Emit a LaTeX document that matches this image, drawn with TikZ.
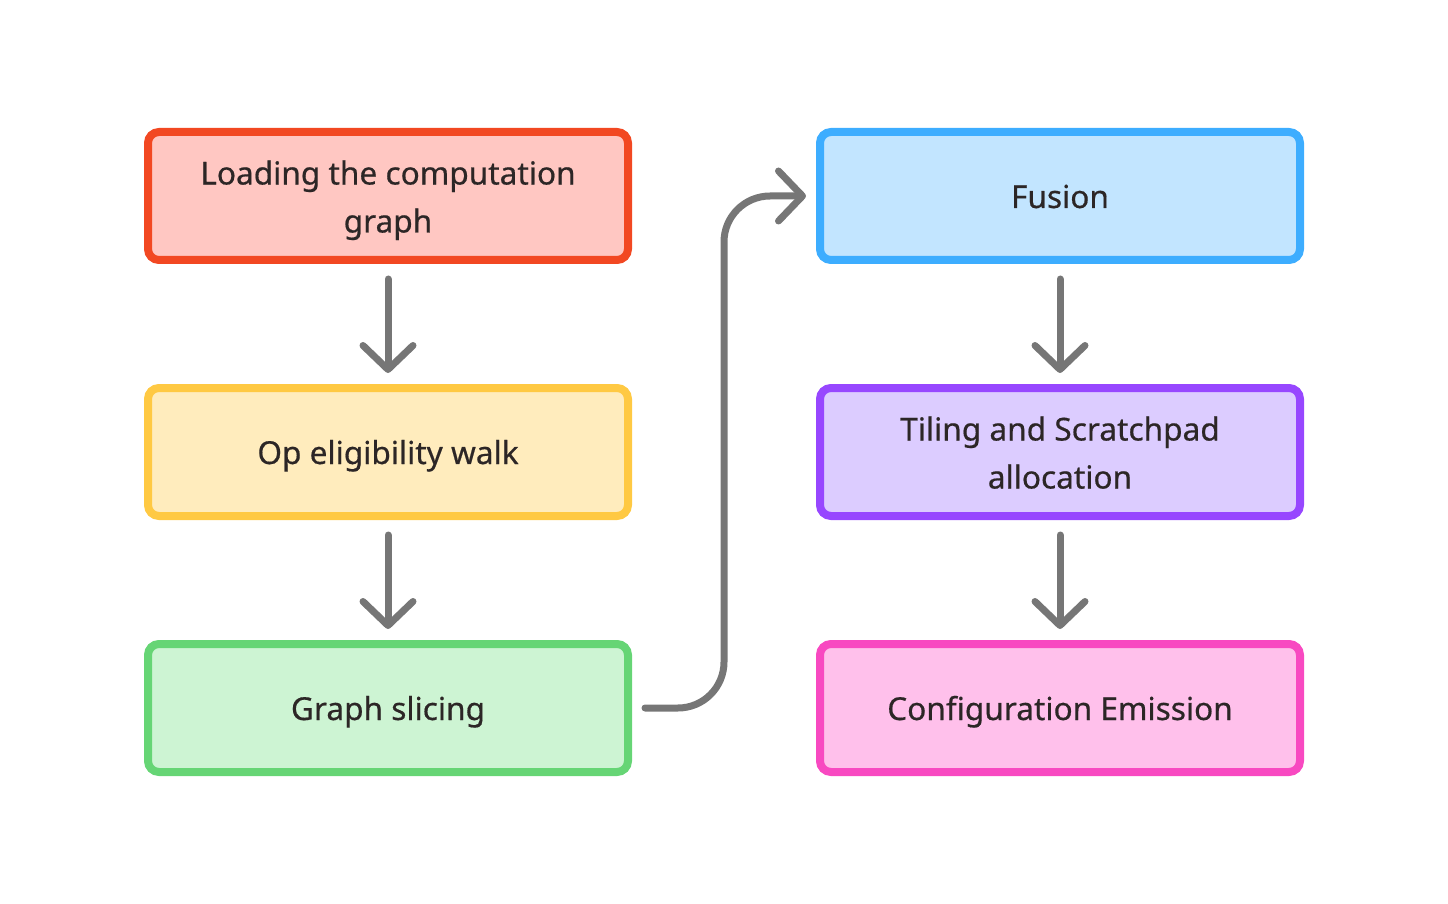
\documentclass[tikz,border=0pt]{standalone}
\usepackage{fontspec}
\setmainfont{Noto Sans}[FakeBold=0.5]
\usetikzlibrary{positioning,arrows.meta,calc}

\definecolor{txtdark}{HTML}{2C2626}
\definecolor{flowgray}{HTML}{767676}
\definecolor{redline}{HTML}{F24822}
\definecolor{redfill}{HTML}{FFC7C2}
\definecolor{yellowline}{HTML}{FFC943}
\definecolor{yellowfill}{HTML}{FFECBD}
\definecolor{greenline}{HTML}{66D575}
\definecolor{greenfill}{HTML}{CDF4D3}
\definecolor{blueline}{HTML}{3DADFF}
\definecolor{bluefill}{HTML}{C2E5FF}
\definecolor{purpleline}{HTML}{9747FF}
\definecolor{purplefill}{HTML}{DCCCFF}
\definecolor{pinkline}{HTML}{F849C1}
\definecolor{pinkfill}{HTML}{FFC0EB}

% taller first line for the two-line labels
\newcommand{\firststrut}{\rule{0pt}{16.5pt}}

\begin{document}
\begin{tikzpicture}[x=0.5pt,y=-0.5pt,
    stage/.style={draw, line width=4pt, rounded corners=5.5pt,
      minimum width=240pt, minimum height=64pt, inner sep=0pt,
      align=center, text=txtdark, font=\fontsize{15.8}{24}\selectfont,
      execute at begin node={\rule[-4pt]{0pt}{20pt}}},
    flow/.style={draw=flowgray, line width=3.5pt, line cap=round,
      -{Straight Barb[length=12pt, width=25pt, line cap=round, line join=round]}}]
    \useasboundingbox (0,0) rectangle (1448,904);

    % left column
    \node[stage, draw=redline, fill=redfill] (load) at (388,196) {\firststrut Loading the computation\\graph};
    \node[stage, draw=yellowline, fill=yellowfill, below=60pt of load] (elig) {Op eligibility walk};
    \node[stage, draw=greenline, fill=greenfill, below=60pt of elig] (slice) {Graph slicing};

    % right column
    \node[stage, draw=blueline, fill=bluefill] (fuse) at (1060,196) {Fusion};
    \node[stage, draw=purpleline, fill=purplefill, below=60pt of fuse] (tile) {\firststrut Tiling and Scratchpad\\allocation};
    \node[stage, draw=pinkline, fill=pinkfill, below=60pt of tile] (emit) {Configuration Emission};

    % arrows
    \draw[flow, shorten <=7.5pt, shorten >=5.5pt] (load) -- (elig);
    \draw[flow, shorten <=7.5pt, shorten >=5.5pt] (elig) -- (slice);
    \draw[flow, shorten <=7.5pt, shorten >=5.5pt] (fuse) -- (tile);
    \draw[flow, shorten <=7.5pt, shorten >=5.5pt] (tile) -- (emit);
    \draw[flow, rounded corners=23pt, shorten <=6.5pt, shorten >=5pt]
      (slice.east) -| ($(slice.east)!.5!(fuse.west)$) |- (fuse.west);
\end{tikzpicture}
\end{document}
